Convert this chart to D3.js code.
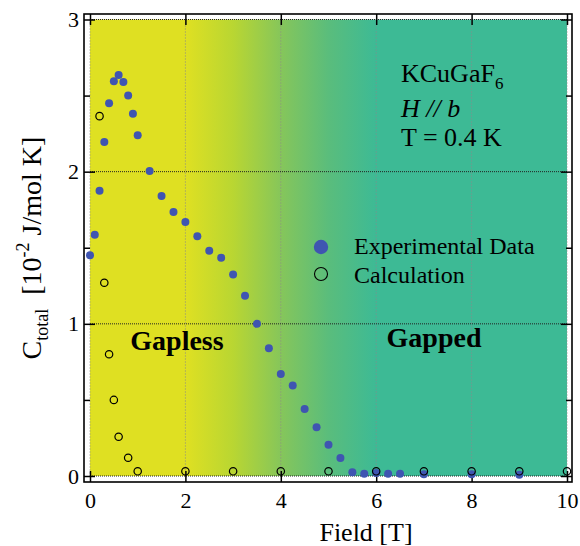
<!DOCTYPE html>
<html>
<head>
<meta charset="utf-8">
<script src="https://cdn.jsdelivr.net/npm/d3@7"></script>
<style>
  html, body { margin: 0; padding: 0; background: #fff; }
  svg { display: block; }
  svg text { font-family: "Liberation Serif", "Times New Roman", "DejaVu Serif", serif !important; fill: #000; }
</style>
</head>
<body>
<svg id="chart" width="580" height="546"></svg>
<script>
// ---- data ----
const expField = [0, 0.1, 0.2, 0.3, 0.4, 0.5, 0.6, 0.7, 0.8, 0.9, 1.0, 1.25, 1.5, 1.75, 2.0, 2.25, 2.5, 2.75, 3.0, 3.25, 3.5, 3.75, 4.0, 4.25, 4.5, 4.75, 5.0, 5.25, 5.5, 5.75, 6.0, 6.25, 6.5, 7, 8, 9];
const expC = [1.45, 1.585, 1.875, 2.195, 2.45, 2.595, 2.635, 2.59, 2.50, 2.38, 2.24, 2.005, 1.84, 1.735, 1.67, 1.575, 1.48, 1.435, 1.325, 1.185, 1.0, 0.84, 0.67, 0.595, 0.44, 0.32, 0.205, 0.118, 0.024, 0.015, 0.02, 0.015, 0.015, 0.011, 0.011, 0.008];
const calcField = [0.2, 0.3, 0.4, 0.5, 0.6, 0.8, 1.0, 2, 3, 4, 5, 6, 7, 8, 9, 10];
const calcC = [2.365, 1.27, 0.80, 0.50, 0.258, 0.12, 0.031, 0.031, 0.031, 0.031, 0.031, 0.031, 0.031, 0.031, 0.031, 0.031];
const xMajorTicks = [0, 2, 4, 6, 8, 10];
const yMajorTicks = [0, 1, 2, 3];
const yMinorTicks = [0.5, 1.5, 2.5];
const xGrid = [0, 2, 4, 6, 8, 10];
const yGrid = [0, 1, 2, 3];
const seriesNames = ["Experimental Data", "Calculation"];
const infoLines = ["KCuGaF", "H // b", "T = 0.4 K"];
const regionLabels = ["Gapless", "Gapped"];

// ---- layout ----
const FONT = '"Liberation Serif", "Times New Roman", "DejaVu Serif", serif';
const svg = d3.select("#chart");
const frame = { left: 84, right: 572, top: 14, bottom: 482 };
const x = d3.scaleLinear().domain([0, 10]).range([90, 567]);
const y = d3.scaleLinear().domain([0, 3]).range([476, 19.5]);
const blue = "#3f55b1";

// gradient background
const defs = svg.append("defs");
const grad = defs.append("linearGradient").attr("id", "bg")
  .attr("gradientUnits", "userSpaceOnUse")
  .attr("x1", x(0)).attr("x2", x(10)).attr("y1", 0).attr("y2", 0);
const stops = [[0, "#dfe022"], [2, "#dfe022"], [3, "#b9d632"], [4, "#86c65a"], [5, "#5abd7c"], [6, "#3dba95"], [10, "#3dba95"]];
stops.forEach(s => grad.append("stop").attr("offset", (s[0] / 10)).attr("stop-color", s[1]));

svg.append("rect")
  .attr("x", x(0)).attr("y", y(3))
  .attr("width", x(10) - x(0)).attr("height", y(0) - y(3))
  .attr("fill", "url(#bg)");

// grid
svg.append("g").selectAll("line").data(xGrid).join("line")
  .attr("x1", d => x(d)).attr("x2", d => x(d))
  .attr("y1", y(3)).attr("y2", y(0))
  .attr("stroke", "#8a8a8a").attr("stroke-width", 1).attr("stroke-dasharray", "1,2");
svg.append("g").selectAll("line").data(yGrid).join("line")
  .attr("x1", x(0)).attr("x2", x(10))
  .attr("y1", d => y(d)).attr("y2", d => y(d))
  .attr("stroke", "#222").attr("stroke-width", 1).attr("stroke-dasharray", "1,1");

// frame
svg.append("rect")
  .attr("x", frame.left).attr("y", frame.top)
  .attr("width", frame.right - frame.left).attr("height", frame.bottom - frame.top)
  .attr("fill", "none").attr("stroke", "#000").attr("stroke-width", 1.6);

// axes
function styleAxis(g) {
  g.select(".domain").remove();
  g.attr("font-family", FONT).attr("font-size", 22);
  g.selectAll(".tick line").attr("stroke", "#000").attr("stroke-width", 1.5);
  g.selectAll(".tick text").attr("font-family", FONT).style("font-size", "22px").attr("fill", "#000");
}
svg.append("g").attr("transform", `translate(0,${frame.bottom})`)
  .call(d3.axisBottom(x).tickValues(xMajorTicks).tickSize(-11).tickPadding(10).tickFormat(d3.format("d")))
  .call(styleAxis);
svg.append("g").attr("transform", `translate(0,${frame.top})`)
  .call(d3.axisTop(x).tickValues(xMajorTicks).tickSize(-11).tickFormat(""))
  .call(styleAxis);
svg.append("g").attr("transform", `translate(${frame.left},0)`)
  .call(d3.axisLeft(y).tickValues(yMajorTicks).tickSize(-11).tickPadding(5).tickFormat(d3.format("d")))
  .call(styleAxis);
svg.append("g").attr("transform", `translate(${frame.left},0)`)
  .call(d3.axisLeft(y).tickValues(yMinorTicks).tickSize(-6).tickFormat(""))
  .call(styleAxis);
svg.append("g").attr("transform", `translate(${frame.right},0)`)
  .call(d3.axisRight(y).tickValues(yMajorTicks).tickSize(-11).tickFormat(""))
  .call(styleAxis);
svg.append("g").attr("transform", `translate(${frame.right},0)`)
  .call(d3.axisRight(y).tickValues(yMinorTicks).tickSize(-6).tickFormat(""))
  .call(styleAxis);

// data
svg.append("g").selectAll("circle").data(expField.map((f, i) => [f, expC[i]])).join("circle")
  .attr("cx", d => x(d[0])).attr("cy", d => y(d[1])).attr("r", 4)
  .attr("fill", blue);
svg.append("g").selectAll("circle").data(calcField.map((f, i) => [f, calcC[i]])).join("circle")
  .attr("cx", d => x(d[0])).attr("cy", d => y(d[1])).attr("r", 3.7)
  .attr("fill", "none").attr("stroke", "#000").attr("stroke-width", 1.2);

// region labels
svg.append("text").attr("x", 177).attr("y", 350).attr("text-anchor", "middle")
  .style("font-size", "28px").style("font-weight", "bold").text(regionLabels[0]);
svg.append("text").attr("x", 434).attr("y", 347).attr("text-anchor", "middle")
  .style("font-size", "28px").style("font-weight", "bold").text(regionLabels[1]);

// info text
const t1 = svg.append("text").attr("x", 401).attr("y", 82).style("font-size", "26px");
t1.append("tspan").text(infoLines[0]);
t1.append("tspan").attr("dy", 7).style("font-size", "17px").text("6");
svg.append("text").attr("x", 401).attr("y", 117).style("font-size", "26px").style("font-style", "italic").text(infoLines[1]);
svg.append("text").attr("x", 401).attr("y", 146).style("font-size", "26px").text(infoLines[2]);

// legend
svg.append("circle").attr("cx", 321).attr("cy", 247).attr("r", 7.2).attr("fill", blue);
svg.append("circle").attr("cx", 321).attr("cy", 274).attr("r", 6.5).attr("fill", "none").attr("stroke", "#000").attr("stroke-width", 1.1);
svg.append("text").attr("x", 354).attr("y", 254).style("font-size", "24px").text(seriesNames[0]);
svg.append("text").attr("x", 354).attr("y", 283).style("font-size", "24px").text(seriesNames[1]);

// axis titles
svg.append("text").attr("x", 366).attr("y", 541).attr("text-anchor", "middle")
  .style("font-size", "26px").text("Field [T]");
const yt = svg.append("text").attr("transform", "translate(41,248) rotate(-90)")
  .attr("text-anchor", "middle").style("font-size", "28px");
yt.append("tspan").text("C");
yt.append("tspan").attr("dy", 7).style("font-size", "18px").text("total");
yt.append("tspan").attr("dy", -7).text("\u00a0 [10");
yt.append("tspan").attr("dy", -12).style("font-size", "18px").text("-2");
yt.append("tspan").attr("dy", 12).text(" J/mol K]");
</script>
</body>
</html>
